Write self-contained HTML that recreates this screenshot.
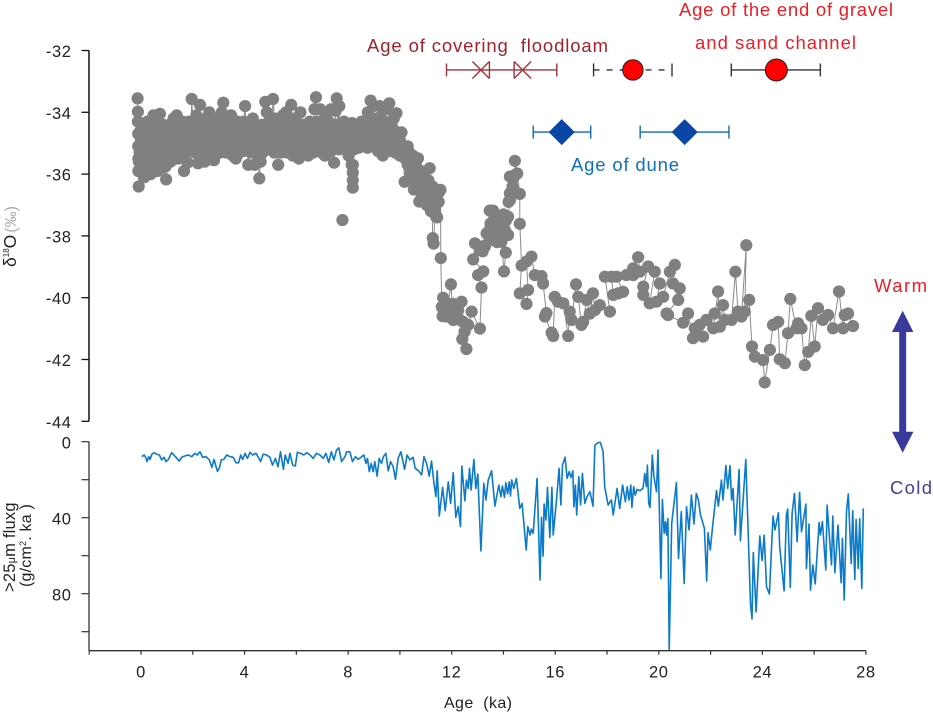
<!DOCTYPE html>
<html lang="en">
<head>
<meta charset="utf-8">
<title>Oxygen isotope and grain flux record</title>
<style>
html,body{margin:0;padding:0;background:#fff;width:933px;height:713px;overflow:hidden}
svg{display:block;font-family:"Liberation Sans",sans-serif}
</style>
</head>
<body>
<svg id="chart" width="933" height="713" viewBox="0 0 933 713" xmlns="http://www.w3.org/2000/svg">
  <g id="upper-line-layer"></g>
  <g id="lower-line-layer"></g>
  <g id="axes-layer"></g>
  <g id="annotation-layer"></g>

  <text x="367" y="52" font-size="18.5" textLength="241" lengthAdjust="spacing" fill="#a3222a">Age of covering&#160; floodloam</text>
  <text x="679" y="16" font-size="18.5" textLength="214" lengthAdjust="spacing" fill="#ee1c25">Age of the end of gravel</text>
  <text x="695" y="49" font-size="18.5" textLength="161" lengthAdjust="spacing" fill="#ee1c25">and sand channel</text>
  <text x="571" y="171" font-size="18.5" textLength="108" lengthAdjust="spacing" fill="#0b72b9">Age of dune</text>
  <text x="874" y="292" font-size="18.5" textLength="53" lengthAdjust="spacing" fill="#ee1c25">Warm</text>
  <text x="890" y="494" font-size="18.5" textLength="42" lengthAdjust="spacing" fill="#3f3f9f">Cold</text>
  <path d="M902.7 310.7 L913.4 332 L906.2 332 L906.2 431.7 L913.4 431.7 L902.7 452.7 L892 431.7 L899.2 431.7 L899.2 332 L892 332 Z" fill="#3a3a9c"/>

  <text transform="translate(16,267) rotate(-90)" font-size="17.5" fill="#222">δ<tspan font-size="8" dy="-7">18</tspan><tspan dy="7">O</tspan><tspan font-size="16" fill="#aaa" dx="2">(‰)</tspan></text>
  <text transform="translate(15,592) rotate(-90)" font-size="16.5" letter-spacing="0.2" fill="#222">&gt;25<tspan font-size="11">μ</tspan>m fluxg</text>
  <text transform="translate(31,587) rotate(-90)" font-size="16" letter-spacing="0.2" fill="#222">(g/cm<tspan font-size="9" dy="-5">2</tspan><tspan dy="5">. ka )</tspan></text>
  <text x="444" y="708" font-size="16" textLength="68" lengthAdjust="spacing" fill="#222">Age&#160; (ka)</text>
</svg>
<script>
var upperAges = [
-0.13,-0.12,-0.12,-0.11,-0.11,-0.1,-0.1,-0.09,-0.08,-0.07,
-0.02,0.03,0.08,0.13,0.18,0.23,0.28,0.33,0.38,0.43,
0.48,0.53,0.58,0.63,0.68,0.73,0.78,0.83,0.88,0.93,
0.97,1.02,1.08,1.14,1.2,1.26,1.32,1.38,1.44,1.5,
1.55,1.6,1.66,1.72,1.8,1.86,1.92,1.96,2.02,2.08,
2.14,2.2,2.28,2.34,2.4,2.46,2.52,2.58,2.64,2.7,
2.76,2.82,2.88,2.94,3.0,3.06,3.12,3.18,3.24,3.3,
3.36,3.42,3.48,3.54,3.6,3.66,3.72,3.78,3.84,3.9,
3.96,4.02,4.08,4.14,4.2,4.26,4.32,4.38,4.44,4.5,
4.57,4.62,4.68,4.74,4.8,4.86,4.92,4.98,5.04,5.1,
5.16,5.22,5.3,5.36,5.42,5.48,5.54,5.6,5.66,5.72,
5.8,5.86,5.92,5.98,6.04,6.1,6.16,6.22,6.28,6.34,
6.4,6.46,6.52,6.58,6.64,6.7,6.76,6.8,6.86,6.92,
6.98,7.04,7.1,7.16,7.22,7.28,7.34,7.4,7.46,7.52,
7.56,7.6,7.66,7.72,7.78,7.84,7.9,7.96,8.02,8.08,
8.14,8.18,8.18,8.18,8.18,8.22,8.28,8.34,8.4,8.46,
8.52,8.58,8.64,8.7,8.76,8.82,8.87,8.92,8.98,9.04,
9.1,9.16,9.22,9.28,9.34,9.4,9.46,9.52,9.59,9.64,
9.7,9.76,9.82,9.87,9.93,10.0,10.06,10.12,10.18,10.24,
10.3,10.36,10.42,10.48,10.54,10.6,10.66,10.7,10.75,10.8,
10.86,10.92,10.98,11.04,11.1,11.15,11.2,11.26,11.32,11.4,
11.24,11.27,11.3,11.36,11.44,11.5,11.57,11.58,11.62,11.67,
11.8,11.97,12.06,11.93,12.38,12.25,12.44,12.41,12.57,12.64,
12.77,13.09,13.15,13.02,13.22,12.83,12.9,13.09,13.28,13.35,
13.47,13.6,13.47,13.6,13.73,13.8,13.86,13.92,14.02,14.09,
14.05,14.18,14.18,14.25,14.25,14.25,14.44,14.44,14.53,14.63,
14.63,14.7,14.63,14.89,14.95,14.89,15.08,15.21,15.47,15.53,
15.66,15.6,15.86,15.92,15.98,16.11,16.31,16.5,16.56,16.63,
16.8,16.89,17.01,17.08,17.21,17.34,17.46,17.53,17.72,18.11,
17.92,18.17,18.24,18.43,18.62,18.37,18.75,19.01,19.01,19.2,
19.27,19.59,19.4,19.4,19.65,19.84,20.04,19.91,20.17,20.43,
20.62,20.55,20.81,20.75,20.3,20.36,20.94,21.13,21.32,21.39,
21.71,21.58,21.84,22.16,22.1,22.29,22.36,22.48,22.55,22.81,
22.96,23.06,23.19,23.38,23.32,23.49,23.6,23.71,24.03,24.09,
24.29,24.41,24.61,24.67,24.87,24.99,25.08,25.32,25.38,25.51,
25.64,25.77,25.89,26.02,26.15,26.34,26.54,26.73,26.96,27.12,
27.18,27.31,27.5
];
var upperValues = [
-33.55,-33.98,-34.3,-34.7,-35.1,-35.5,-35.9,-36.4,-35.6,-35.1,
-34.6,-35.4,-34.7,-36.1,-35.0,-34.5,-35.8,-34.9,-36.0,-35.2,
-34.1,-35.6,-34.6,-35.9,-34.9,-34.05,-35.4,-34.6,-35.7,-35.0,
-36.17,-35.5,-34.5,-35.6,-34.8,-34.2,-35.2,-34.1,-35.5,-34.7,
-35.2,-34.3,-35.9,-34.9,-35.63,-34.3,-35.1,-33.57,-34.7,-35.3,
-34.1,-35.65,-33.76,-35.0,-34.5,-35.6,-34.2,-35.4,-34.0,-35.1,
-34.6,-35.55,-34.2,-35.1,-34.6,-35.3,-34.0,-33.69,-34.9,-35.3,
-34.2,-35.0,-34.1,-35.4,-34.6,-35.5,-34.3,-35.0,-34.6,-35.2,
-34.3,-33.8,-35.0,-35.7,-34.5,-35.3,-34.2,-35.7,-34.9,-35.4,
-36.14,-35.6,-34.4,-35.0,-33.66,-34.0,-35.0,-34.3,-35.2,-33.57,
-34.2,-35.2,-35.7,-34.6,-35.3,-34.1,-35.1,-34.0,-35.3,-34.6,
-33.76,-35.4,-34.2,-35.0,-34.5,-35.5,-34.0,-35.3,-34.6,-35.1,
-34.5,-35.4,-34.3,-35.2,-34.7,-33.9,-33.51,-34.3,-35.2,-33.9,
-35.3,-34.6,-35.4,-34.1,-35.0,-34.5,-33.9,-35.1,-35.63,-33.95,
-33.55,-34.5,-33.8,-34.9,-34.6,-34.3,-35.1,-34.4,-35.4,-34.6,
-35.7,-36.44,-36.2,-35.95,-35.7,-35.2,-34.6,-35.0,-34.4,-34.8,
-34.3,-35.0,-34.4,-34.9,-34.0,-34.4,-33.62,-34.7,-33.8,-35.0,
-34.2,-35.2,-33.8,-34.7,-35.4,-34.3,-33.9,-35.2,-33.71,-34.6,
-35.0,-34.2,-35.3,-34.03,-34.9,-35.4,-34.65,-35.2,-36.25,-35.3,
-35.7,-35.3,-36.0,-35.7,-36.5,-36.2,-35.8,-35.49,-36.89,-36.4,
-36.0,-36.6,-36.2,-37.0,-36.6,-35.81,-36.9,-36.4,-37.1,-37.38,
-37.0,-38.07,-38.25,-37.2,-37.4,-36.9,-36.51,-38.72,-40.3,-40.0,
-40.61,-39.57,-40.72,-40.29,-40.13,-40.4,-40.78,-41.34,-41.66,-40.88,
-40.45,-41.0,-39.67,-39.27,-39.15,-38.76,-38.24,-38.46,-38.35,-37.92,
-37.18,-37.18,-37.81,-38.13,-37.59,-37.92,-37.49,-38.19,-39.15,-38.54,
-37.81,-37.97,-37.38,-36.84,-36.62,-36.08,-36.03,-35.57,-35.98,-36.64,
-37.61,-38.96,-39.86,-40.2,-39.75,-38.83,-38.67,-39.27,-39.3,-39.54,
-40.5,-40.61,-41.13,-41.24,-39.97,-40.13,-40.18,-41.24,-40.45,-40.72,
-39.57,-39.97,-40.88,-40.78,-40.07,-40.51,-39.86,-40.4,-40.24,-40.45,
-39.32,-39.32,-39.91,-39.86,-39.81,-39.32,-39.27,-39.27,-39.05,-38.69,
-39.16,-38.99,-39.64,-39.91,-40.18,-39.16,-39.54,-40.13,-39.97,-39.16,
-38.94,-39.54,-39.7,-40.07,-40.51,-40.56,-40.81,-40.51,-41.31,-40.99,
-41.26,-40.88,-40.72,-40.51,-40.99,-39.8,-40.94,-40.24,-40.72,-40.72,
-39.16,-40.45,-40.61,-38.3,-40.45,-40.07,-41.58,-41.91,-42.02,-42.74,
-41.69,-40.88,-40.78,-41.99,-42.12,-41.15,-40.04,-40.99,-40.83,-40.99,
-42.18,-41.75,-40.59,-41.58,-40.34,-40.72,-40.56,-40.99,-39.8,-40.99,
-40.56,-40.51,-40.92
];
var isolatedAges = [7.78];
var isolatedValues = [-37.49];

var denseAges = [
-0.05,0.0,0.05,0.1,0.15,0.2,0.25,0.3,0.35,0.4,
0.45,0.5,0.55,0.6,0.65,0.7,0.75,0.8,0.85,0.9,
0.95,1.0,1.05,1.1,1.15,1.2,1.25,1.3,1.35,1.4,
1.45,1.5,1.55,1.6,1.65,1.7,1.75,1.8,1.85,1.9,
1.95,2.0,2.05,2.1,2.15,2.2,2.25,2.3,2.35,2.4,
2.45,2.5,2.55,2.6,2.65,2.7,2.75,2.8,2.85,2.9,
2.95,3.0,3.05,3.1,3.15,3.2,3.25,3.3,3.35,3.4,
3.45,3.5,3.55,3.6,3.65,3.7,3.75,3.8,3.85,3.9,
3.95,4.0,4.05,4.1,4.15,4.2,4.25,4.3,4.35,4.4,
4.45,4.5,4.55,4.6,4.65,4.7,4.75,4.8,4.85,4.9,
4.95,5.0,5.05,5.1,5.15,5.2,5.25,5.3,5.35,5.4,
5.45,5.5,5.55,5.6,5.65,5.7,5.75,5.8,5.85,5.9,
5.95,6.0,6.05,6.1,6.15,6.2,6.25,6.3,6.35,6.4,
6.45,6.5,6.55,6.6,6.65,6.7,6.75,6.8,6.85,6.9,
6.95,7.0,7.05,7.1,7.15,7.2,7.25,7.3,7.35,7.4,
7.45,7.5,7.55,7.6,7.65,7.7,7.75,7.8,7.85,7.9,
7.95,8.0,8.05,8.1,8.15,8.2,8.25,8.3,8.35,8.4,
8.45,8.5,8.55,8.6,8.65,8.7,8.75,8.8,8.85,8.9,
8.95,9.0,9.05,9.1,9.15,9.2,9.25,9.3,9.35,9.4,
9.45,9.5,9.55,9.6,9.65,9.7,9.75,9.8,9.85,9.9,
10.0,10.1,10.2,10.3,10.4,10.5,10.55,10.6,10.7,10.8,
10.85,10.95,11.0,11.1,11.15,11.2,11.3,11.35,11.42,11.5,
11.65,11.7,11.75,11.85,11.95,12.05,12.15,12.2,12.3,12.5,
13.2,13.3,13.4,13.5,13.55,13.65,13.7,13.75,13.85,13.95,
14.0,14.05,14.1,14.2,14.3,14.35,14.4
];
var denseValues = [
-35.3,-34.9,-35.75,-34.45,-35.45,-35.1,-34.3,-35.6,-34.7,-35.45,
-34.4,-35.2,-34.9,-35.5,-34.3,-35.1,-34.7,-35.8,-34.4,-35.3,
-35.75,-34.8,-35.1,-34.4,-35.4,-34.65,-34.95,-34.45,-35.5,-34.8,
-34.35,-35.15,-34.55,-35.0,-34.6,-35.3,-34.45,-35.1,-34.75,-34.4,
-35.25,-34.5,-34.9,-34.6,-35.2,-34.4,-35.35,-34.65,-35.0,-34.3,
-35.15,-34.75,-34.45,-35.2,-34.7,-34.4,-35.0,-34.6,-35.3,-34.45,
-34.85,-34.3,-35.1,-34.7,-34.45,-35.2,-34.65,-34.35,-35.05,-34.7,
-34.45,-35.1,-34.8,-34.4,-35.0,-34.55,-35.35,-34.7,-34.4,-35.0,
-34.6,-35.25,-34.4,-34.85,-35.2,-34.65,-34.9,-34.5,-35.05,-34.4,
-35.3,-34.7,-35.1,-34.45,-34.9,-35.3,-34.55,-34.9,-35.2,-34.5,
-34.75,-35.1,-34.5,-34.9,-35.3,-34.6,-34.35,-35.15,-34.75,-34.5,
-34.95,-34.6,-35.25,-34.7,-34.45,-35.0,-34.3,-34.7,-35.2,-34.55,
-34.8,-35.25,-34.65,-34.4,-35.05,-34.75,-34.4,-34.95,-35.3,-34.7,
-34.4,-35.0,-34.6,-34.85,-35.3,-34.45,-35.0,-34.7,-34.4,-34.95,
-34.5,-35.1,-34.8,-34.45,-35.2,-34.75,-34.3,-34.8,-35.25,-34.55,
-34.85,-34.4,-35.0,-34.6,-35.2,-34.45,-34.85,-35.05,-34.55,-34.75,
-35.1,-34.5,-34.95,-35.2,-34.35,-34.7,-35.05,-34.55,-34.8,-35.15,
-34.55,-34.8,-34.3,-35.1,-34.65,-34.4,-35.15,-34.6,-34.9,-34.3,
-35.1,-34.6,-34.35,-34.85,-35.25,-34.55,-34.15,-34.95,-34.65,-35.1,
-34.4,-35.0,-34.7,-35.25,-34.5,-34.8,-34.95,-34.6,-35.2,-34.75,
-34.9,-35.2,-35.5,-35.1,-35.6,-35.4,-36.0,-35.7,-36.2,-35.9,
-36.7,-36.4,-36.8,-36.2,-36.5,-37.2,-36.8,-37.0,-36.7,-36.6,
-40.6,-40.4,-40.6,-40.2,-40.5,-40.2,-40.3,-40.7,-40.7,-41.1,
-38.5,-38.3,-37.9,-37.6,-38.0,-37.5,-37.9,-38.2,-37.8,-37.6,
-37.3,-37.9,-37.5,-36.9,-36.6,-36.4,-36.1
];

var fluxAges = [
0.03,0.12,0.18,0.23,0.30,0.35,0.42,0.51,0.60,0.71,
0.80,0.89,0.97,1.06,1.18,1.27,1.35,1.48,1.57,1.70,
1.83,1.96,2.08,2.17,2.28,2.38,2.51,2.64,2.74,2.82,
2.95,3.02,3.10,3.20,3.31,3.44,3.56,3.67,3.77,3.85,
3.93,4.02,4.11,4.21,4.31,4.44,4.53,4.62,4.72,4.85,
4.98,5.08,5.19,5.29,5.39,5.50,5.57,5.68,5.75,5.86,
5.96,6.04,6.16,6.29,6.40,6.53,6.65,6.78,6.91,7.04,
7.14,7.25,7.35,7.45,7.55,7.64,7.75,7.88,7.94,8.07,
8.17,8.28,8.39,8.52,8.61,8.69,8.75,8.82,8.89,8.97,
9.03,9.12,9.20,9.29,9.36,9.46,9.55,9.64,9.74,9.83,
9.93,10.04,10.18,10.28,10.39,10.51,10.59,10.72,10.84,10.93,
11.03,11.13,11.22,11.31,11.39,11.44,11.52,11.65,11.75,11.87,
11.96,12.06,12.16,12.25,12.34,12.39,12.51,12.57,12.64,12.69,
12.75,12.86,12.93,13.01,13.13,13.24,13.32,13.41,13.54,13.67,
13.82,13.90,13.96,14.04,14.09,14.16,14.22,14.27,14.32,14.40,
14.50,14.63,14.72,14.88,14.94,15.03,15.08,15.15,15.30,15.41,
15.47,15.53,15.57,15.64,15.70,15.79,15.87,15.92,16.05,16.15,
16.22,16.28,16.38,16.46,16.54,16.61,16.68,16.72,16.78,16.83,
16.91,16.98,17.05,17.14,17.23,17.34,17.46,17.53,17.66,17.75,
17.85,17.91,18.04,18.17,18.24,18.39,18.49,18.60,18.71,18.78,
18.85,18.92,18.96,19.03,19.09,19.16,19.27,19.39,19.46,19.52,
19.56,19.61,19.66,19.75,19.81,19.91,19.97,20.08,20.14,20.21,
20.26,20.30,20.35,20.40,20.50,20.68,20.76,20.87,20.98,21.07,
21.17,21.26,21.36,21.45,21.53,21.61,21.76,21.85,21.90,21.99,
22.07,22.23,22.30,22.42,22.48,22.59,22.66,22.75,22.81,22.87,
22.95,23.10,23.15,23.36,23.54,23.60,23.65,23.76,23.90,23.99,
24.07,24.16,24.27,24.41,24.49,24.62,24.67,24.84,24.93,24.98,
25.08,25.15,25.24,25.34,25.44,25.51,25.68,25.70,25.80,25.86,
25.95,26.04,26.19,26.24,26.32,26.45,26.50,26.58,26.67,26.72,
26.80,26.92,27.04,27.09,27.16,27.25,27.32,27.43,27.49,27.57,
27.62,27.70,27.76,27.84,27.90
];
var fluxValues = [
7.9,7.0,8.2,10.5,7.9,9.3,6.5,5.8,6.5,7.0,
9.6,8.2,10.5,9.3,5.8,7.0,8.2,10.2,8.2,7.5,
7.0,7.9,6.1,7.0,5.3,8.2,7.9,9.6,13.5,9.3,
15.6,14.0,9.6,9.3,7.0,7.9,8.2,11.1,11.1,7.0,
9.3,6.1,8.8,5.6,7.0,6.1,8.2,10.5,6.5,7.0,
8.2,12.3,8.8,13.2,5.3,14.6,7.0,11.4,6.1,12.3,
12.8,5.6,6.1,7.0,5.8,7.0,8.8,6.1,7.0,8.8,
6.1,10.9,5.3,9.6,4.4,3.2,10.5,7.9,5.3,5.3,
10.5,7.9,9.3,7.9,7.0,11.4,8.8,15.8,11.4,15.8,
10.5,18.1,8.8,11.4,7.9,6.1,15.3,10.5,13.2,19.8,
8.8,5.3,14.6,7.0,9.6,8.2,14.0,15.3,17.5,7.9,
11.4,18.1,10.2,21.1,28.9,15.3,39.1,24.0,36.3,21.1,
32.5,16.3,39.8,34.2,44.7,12.8,31.1,20.2,24.6,14.0,
25.4,9.3,24.6,17.0,57.4,21.9,30.7,20.2,15.3,33.9,
22.8,28.9,23.3,29.3,21.6,27.5,21.1,28.6,20.2,24.6,
19.3,35.1,32.5,57.0,44.7,49.1,46.0,48.2,19.3,72.8,
39.8,60.2,32.8,41.2,24.0,50.4,24.0,49.1,30.7,14.0,
33.3,12.3,8.2,19.3,15.8,18.9,15.3,34.2,22.8,38.6,
18.4,33.3,16.7,32.5,28.9,26.3,33.9,1.8,0.4,0.5,
5.3,23.7,33.3,30.7,38.6,24.6,35.1,22.8,31.6,23.7,
30.7,22.8,34.6,23.7,28.1,25.1,25.8,24.6,16.7,23.7,
12.3,32.5,34.6,7.0,18.4,26.3,4.4,71.9,30.4,48.2,
42.1,49.1,40.4,109.6,43.0,21.6,61.4,36.8,74.6,34.2,
46.5,28.1,43.3,27.2,30.7,38.6,45.6,73.3,47.9,57.0,
45.6,25.8,33.9,20.2,30.7,12.6,24.6,12.6,30.7,24.6,
49.1,14.6,52.1,9.3,85.4,93.3,58.4,89.5,49.6,62.6,
49.1,76.3,80.2,39.1,46.5,37.4,55.3,78.6,38.6,35.4,
76.7,37.7,27.2,52.6,26.7,47.4,32.8,66.7,43.3,78.1,
64.9,74.9,42.6,49.1,42.1,67.5,33.3,48.2,64.9,39.1,
68.9,43.9,74.2,50.9,83.3,36.8,27.5,64.0,36.3,72.5,
40.9,66.7,40.4,77.2,35.1
];

var upperTicks = [-32,-34,-36,-38,-40,-42,-44];
var fluxTicks = [0,20,40,60,80,100];
var fluxTickLabels = ["0","","40","","80",""];
var ageTicks = [-2,0,2,4,6,8,10,12,14,16,18,20,22,24,26,28];
var ageTickLabels = ["","0","","4","","8","","12","","16","","20","","24","","28"];

var floodloamLow = [11.8];
var floodloamHigh = [16.06];
var floodloamAges = [13.13,14.74];
var floodloamValue = -32.63;
var gravelLow = [17.48,22.8];
var gravelHigh = [20.51,26.24];
var gravelAges = [19.0,24.54];
var gravelValue = -32.63;
var duneLow = [15.15,19.28];
var duneHigh = [17.37,22.71];
var duneAges = [16.25,21.0];
var duneValue = -34.64;

function xAge(a){return 141 + a*25.89;}
function yUpper(v){return 50.5 + (-32 - v)*30.9;}
function yFlux(v){return 441.7 + v*1.9;}

var NS = "http://www.w3.org/2000/svg";
function make(tag, attrs, parent){
  var el = document.createElementNS(NS, tag);
  for (var k in attrs) el.setAttribute(k, attrs[k]);
  parent.appendChild(el);
  return el;
}
function polyPoints(xs, ys, yFn){
  var out = [];
  for (var i = 0; i < xs.length; i++) out.push(xAge(xs[i]).toFixed(1) + "," + yFn(ys[i]).toFixed(1));
  return out.join(" ");
}

var upperLayer = document.getElementById("upper-line-layer");
var upperLine = make("polyline", {points: polyPoints(upperAges, upperValues, yUpper), fill: "none", stroke: "#8a8a8a", "stroke-width": 1}, upperLayer);


for (var i = 0; i < upperAges.length; i++) {
  var dot = make("circle", {cx: xAge(upperAges[i]).toFixed(1), cy: yUpper(upperValues[i]).toFixed(1), r: 6.1, fill: "#808080"}, upperLayer);
  
  
}
for (var d2 = 0; d2 < denseAges.length; d2++) {
  var dense = make("circle", {cx: xAge(denseAges[d2]).toFixed(1), cy: yUpper(denseValues[d2]).toFixed(1), r: 6.1, fill: "#808080"}, upperLayer);
  
  
}
for (var j = 0; j < isolatedAges.length; j++) {
  var iso = make("circle", {cx: xAge(isolatedAges[j]).toFixed(1), cy: yUpper(isolatedValues[j]).toFixed(1), r: 6.1, fill: "#808080"}, upperLayer);
  
  
}

var lowerLayer = document.getElementById("lower-line-layer");
var fluxLine = make("polyline", {points: polyPoints(fluxAges, fluxValues, yFlux), fill: "none", stroke: "#0b7ac9", "stroke-width": 1.6, "stroke-linejoin": "round"}, lowerLayer);



var axes = document.getElementById("axes-layer");
var upperAxis = make("line", {x1: 89, x2: 89, y1: yUpper(-32), y2: yUpper(-44), stroke: "#111", "stroke-width": 1.5}, axes);


upperTicks.forEach(function(t){
  var tk = make("line", {x1: 81.5, x2: 89, y1: yUpper(t), y2: yUpper(t), stroke: "#111", "stroke-width": 1.3}, axes);
  
  
  var lb = make("text", {x: 71.5, y: yUpper(t) + 6.5, "text-anchor": "end", "font-size": 16.5, "letter-spacing": 0.6, fill: "#222"}, axes);
  
  
  lb.textContent = String(t);
});

var lowerAxis = make("line", {x1: 89, x2: 89, y1: yFlux(0), y2: yFlux(110), stroke: "#333", "stroke-width": 1.3}, axes);


fluxTicks.forEach(function(t, idx){
  var tk = make("line", {x1: 81.5, x2: 89, y1: yFlux(t), y2: yFlux(t), stroke: "#333", "stroke-width": 1.2}, axes);
  
  
  if (fluxTickLabels[idx]) {
    var lb = make("text", {x: 71.5, y: yFlux(t) + 7, "text-anchor": "end", "font-size": 16.5, "letter-spacing": 0.6, fill: "#222"}, axes);
    
    
    lb.textContent = fluxTickLabels[idx];
  }
});

var xAxis = make("line", {x1: xAge(-2), x2: xAge(28), y1: yFlux(110), y2: yFlux(110), stroke: "#333", "stroke-width": 1.3}, axes);


ageTicks.forEach(function(t, idx){
  var tk = make("line", {x1: xAge(t), x2: xAge(t), y1: yFlux(110), y2: yFlux(110) + 4, stroke: "#333", "stroke-width": 1.2}, axes);
  
  
  if (ageTickLabels[idx]) {
    var lb = make("text", {x: xAge(t), y: 677.5, "text-anchor": "middle", "font-size": 16.5, "letter-spacing": 0.6, fill: "#222"}, axes);
    
    
    lb.textContent = ageTickLabels[idx];
  }
});

var ann = document.getElementById("annotation-layer");
function whisker(low, high, y, color, dashed, name){
  var g = make("g", {stroke: color, "stroke-width": 1.4, fill: "none"}, ann);
  
  
  var a = xAge(low), b = xAge(high);
  var line = {x1: a, x2: b, y1: y, y2: y};
  if (dashed) line["stroke-dasharray"] = "6 7";
  make("line", line, g);
  make("line", {x1: a, x2: a, y1: y - 6.5, y2: y + 6.5}, g);
  make("line", {x1: b, x2: b, y1: y - 6.5, y2: y + 6.5}, g);
}

whisker(floodloamLow[0], floodloamHigh[0], yUpper(floodloamValue), "#a0343a", false, "floodloam-age-range");
floodloamAges.forEach(function(a, idx){
  var cx = xAge(a), cy = yUpper(floodloamValue);
  var g = make("g", {stroke: "#a0343a", "stroke-width": 1.4, fill: "none"}, ann);
  
  
  make("path", {d: "M" + (cx-8.5) + " " + (cy-8.5) + " L" + (cx+8.5) + " " + (cy+8.5) + " M" + (cx-8.5) + " " + (cy+8.5) + " L" + (cx+8.5) + " " + (cy-8.5)}, g);
  var dir = idx === 0 ? 1 : -1;
  make("path", {d: "M" + (cx+dir*8.5) + " " + (cy-8.5) + " L" + (cx+dir*8.5) + " " + (cy+8.5)}, g);
});

gravelAges.forEach(function(a, idx){
  var y = yUpper(gravelValue);
  whisker(gravelLow[idx], gravelHigh[idx], y, "#333", idx === 0, idx === 0 ? 'gravel-age-range-dashed' : 'gravel-age-range');
  var c = make("circle", {cx: xAge(a), cy: y, r: idx === 0 ? 10.2 : 11, fill: "#ff0000", stroke: "#222", "stroke-width": 1}, ann);
  
  
});

duneAges.forEach(function(a, idx){
  var y = yUpper(duneValue), cx = xAge(a);
  whisker(duneLow[idx], duneHigh[idx], y, "#1268b3", false, 'dune-age-range');
  var d = make("path", {d: "M" + (cx-13) + " " + y + " L" + cx + " " + (y-13) + " L" + (cx+13) + " " + y + " L" + cx + " " + (y+13) + " Z", fill: "#0a46a5"}, ann);
  
  
});
</script>
</body>
</html>
